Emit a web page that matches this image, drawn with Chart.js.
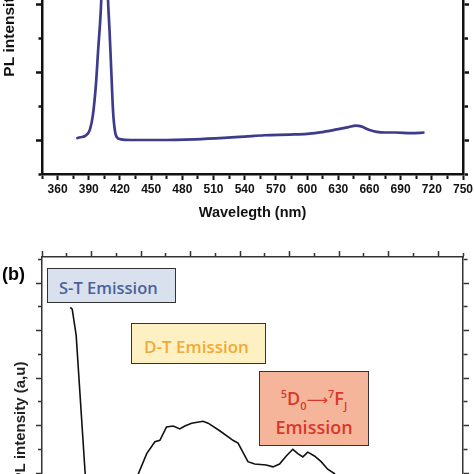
<!DOCTYPE html>
<html>
<head>
<meta charset="utf-8">
<script src="https://cdn.jsdelivr.net/npm/chart.js@4.4.1/dist/chart.umd.min.js"></script>
<style>
  html, body { margin: 0; padding: 0; background: #fff; }
  body { width: 474px; height: 474px; overflow: hidden; position: relative; }
  canvas { position: absolute; left: 0; }
  #chartA { top: -150px; }
  #chartB { top: 240px; }
  .lbl { position: absolute; font-family: Arial, "Liberation Sans", sans-serif; font-weight: bold; }
  .box { position: absolute; box-sizing: border-box; border: 1.5px solid #333; font-family: "Open Sans", sans-serif; font-weight: 600; }
  .box sup, .box sub { font-size: 11px; line-height: 0; }
</style>
</head>
<body>
<canvas id="chartA" width="474" height="390"></canvas>
<canvas id="chartB" width="474" height="420"></canvas>

<div class="lbl" style="left:2px; top:265px; font-size:18px; line-height:18px;">(b)</div>
<div class="box" style="left:47px; top:268px; width:129px; height:35px; background:#d9e1ef; color:#4d6298; font-size:16.5px; line-height:16px; padding:11px 0 0 11px;">S-T Emission</div>
<div class="box" style="left:131px; top:323px; width:135px; height:41px; background:#fdf1c4; color:#f1a937; font-size:17px; line-height:17px; padding:14px 0 0 12px;">D-T Emission</div>
<div class="box" style="left:259px; top:371px; width:110px; height:75px; background:#f5b59b; color:#d7392c; font-size:18px; line-height:27px; text-align:center; padding-top:13px;">
  <span><sup>5</sup>D<sub>0</sub><span style="font-family:'DejaVu Sans'; font-weight:normal; font-size:15px;">⟶</span><sup>7</sup>F<sub>J</sub></span><br>Emission
</div>

<script>
// (a) excitation-side spectrum
const wlA = [378, 382, 386.5, 391, 394, 397, 399, 401, 402, 403.5, 405, 406.5, 408.5, 410, 411.5, 413.3, 415, 417, 421, 430,
  458, 492, 520, 540, 559, 583, 600, 616, 630, 640, 647, 652, 659.5, 667, 675, 685, 700, 713];
const plA = [0.025, 0.04, 0.06, 0.15, 0.37, 0.84, 1.32, 1.76, 2.06, 3.0, 3.5, 3.0, 2.06, 1.6, 1.07, 0.44, 0.15, 0.04, 0.01, 0,
  0, 0.01, 0.03, 0.05, 0.07, 0.08, 0.09, 0.12, 0.16, 0.19, 0.21, 0.2, 0.15, 0.12, 0.11, 0.11, 0.1, 0.11];

// (b) emission spectrum
const wlB = [378.5, 380.5, 384.5, 393.6, 398.6, 408.7, 423.8, 436.5, 447.2, 455.7, 464, 469, 475.7, 482.4, 489.2, 494.2, 501,
  512.6, 517.7, 529.4, 542.8, 547.9, 557.9, 564.7, 576.4, 583.1, 589.8, 596.6, 603.2, 608.3, 613.3, 618.3, 625, 631.8,
  638.4, 645.2, 655.2, 670.4, 710.6, 766];
const plB = [5.49, 5.45, 4.9, 1.98, 0.59, 0.25, 0.21, 0.48, 1.98, 2.41, 2.66, 2.69, 2.97, 2.99, 2.93, 2.99, 3.05,
  3.09, 3.05, 2.89, 2.69, 2.63, 2.24, 2.19, 2.17, 2.13, 2.19, 2.36, 2.5, 2.41, 2.34, 2.44, 2.36, 2.24,
  2.08, 1.99, 1.43, 0.9, 0.48, 0.27];

const FONT = 'Arial, "Liberation Sans", sans-serif';

function isMajor(v, step) {
    const r = v / step;
    return Math.abs(r - Math.round(r)) < 1e-6;
}

// minor ticks are shortened with a dash pattern (outer-end or axis-end start depending on side)
function tickDash(step, len, minor, fromOuter) {
    return function (ctx) {
        if (!ctx.tick || isMajor(ctx.tick.value, step)) return [];
        return fromOuter ? [0, len - minor, minor, 100] : [minor, 100];
    };
}

function edgeAxis(pos, min, max, step, major, color, width, len, minor, size) {
    return {
        type: 'linear', position: pos, min: min, max: max,
        border: { color: color, width: width },
        grid: {
            drawOnChartArea: false, tickLength: len, tickColor: color, tickWidth: width,
            tickBorderDash: tickDash(major, len, minor, pos === 'left' || pos === 'top')
        },
        ticks: { display: false, stepSize: step, autoSkip: false, includeBounds: false },
        afterFit: function (s) {
            if (pos === 'left' || pos === 'right') s.width = size; else s.height = size;
            s.paddingLeft = 0; s.paddingRight = 0; s.paddingTop = 0; s.paddingBottom = 0;
        }
    };
}

function spectrumA() {
    const ctx = document.getElementById('chartA').getContext('2d');
    const pts = wlA.map(function (w, i) { return { x: w, y: plA[i] }; });
    const yL = edgeAxis('left', -0.5, 4.2, 0.5, 1, '#111', 2.5, 6, 3.5, 42);
    yL.title = { display: true, text: 'PL intensity (a.u)', color: '#111', font: { family: FONT, size: 15.5, weight: 'bold' }, padding: 0 };
    const chart = new Chart(ctx, {
        type: 'line',
        data: {
            datasets: [{
                data: pts,
                borderColor: '#3c3b8c',
                borderWidth: 2.7,
                pointRadius: 0,
                cubicInterpolationMode: 'monotone'
            }]
        },
        options: {
            responsive: false,
            animation: false,
            layout: { padding: { top: 4.4, left: 0, right: 0, bottom: 0 } },
            plugins: { legend: { display: false }, tooltip: { enabled: false } },
            scales: {
                x: {
                    type: 'linear', position: 'bottom', min: 345, max: 750,
                    border: { color: '#111', width: 2.5 },
                    grid: {
                        drawOnChartArea: false, tickLength: 6, tickColor: '#111', tickWidth: 2,
                        tickBorderDash: tickDash(30, 6, 3.5, false)
                    },
                    ticks: {
                        stepSize: 15, autoSkip: false, maxRotation: 0, padding: 2.5, color: '#111',
                        font: { family: FONT, size: 12, weight: 'bold' },
                        callback: function (v) { return isMajor(v, 30) ? String(v) : ''; }
                    },
                    title: { display: true, text: 'Wavelegth (nm)', color: '#111', font: { family: FONT, size: 14.5, weight: 'bold' }, padding: { top: 0, bottom: 18 } },
                    afterFit: function (s) { s.height = 66; s.paddingLeft = 0; s.paddingRight = 0; }
                },
                y: yL,
                y2: edgeAxis('right', -0.5, 4.2, 0.5, 1, '#111', 2.5, 6, 3.5, 11)
            }
        }
    });
}

function spectrumB() {
    const ctx = document.getElementById('chartB').getContext('2d');
    const pts = wlB.map(function (w, i) { return { x: w, y: plB[i] }; });
    const yL = edgeAxis('left', -0.4, 6.55, 0.5, 1, '#333', 1.5, 6, 4, 42);
    yL.title = { display: true, text: 'PL intensity (a,u)', color: '#222', font: { family: FONT, size: 15, weight: 'bold' }, padding: { top: 12, bottom: 0 } };
    const xB = edgeAxis('bottom', 350, 775, 25, 50, '#333', 1.5, 6, 4, 73);
    xB.ticks = {
        stepSize: 25, autoSkip: false, includeBounds: false, maxRotation: 0, color: '#222',
        font: { family: FONT, size: 12, weight: 'bold' },
        callback: function (v) { return isMajor(v, 50) ? String(v) : ''; }
    };
    const chart = new Chart(ctx, {
        type: 'line',
        data: {
            datasets: [{
                data: pts,
                borderColor: '#111',
                borderWidth: 1.6,
                pointRadius: 0,
                tension: 0
            }]
        },
        options: {
            responsive: false,
            animation: false,
            layout: { padding: 0 },
            plugins: { legend: { display: false }, tooltip: { enabled: false } },
            scales: {
                x: xB,
                x2: edgeAxis('top', 350, 775, 25, 50, '#333', 1.5, 6, 4, 17),
                y: yL,
                y2: edgeAxis('right', -0.4, 6.55, 0.5, 1, '#333', 1.5, 6, 4, 11)
            }
        }
    });
}

spectrumA();
spectrumB();
</script>
</body>
</html>
